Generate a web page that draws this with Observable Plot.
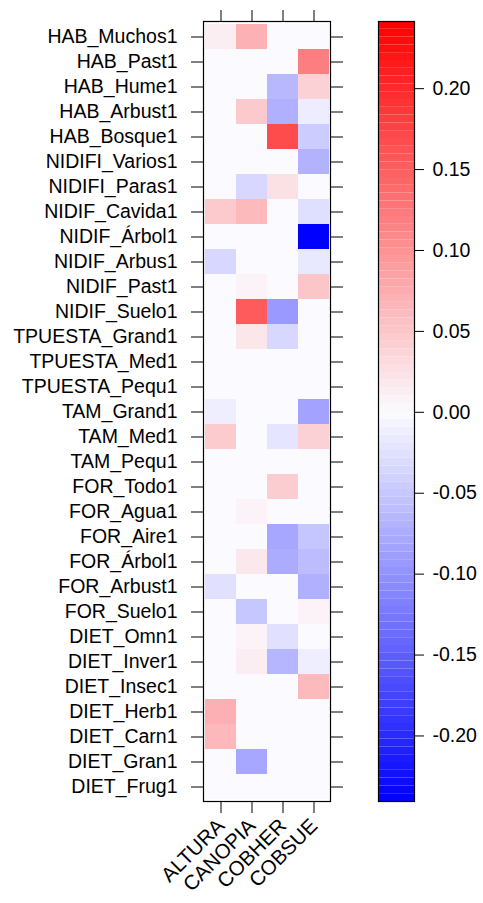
<!DOCTYPE html>
<html><head><meta charset="utf-8">
<script src="https://cdn.jsdelivr.net/npm/d3@7"></script>
<script src="https://cdn.jsdelivr.net/npm/@observablehq/plot@0.6"></script>
<style>
html,body{margin:0;padding:0;background:#fff;}
#chart{position:relative;width:483px;height:903px;}
#chart svg{position:absolute;left:0;top:0;}
</style></head><body><div id="chart"></div>
<script>
const variables = ["HAB_Muchos1","HAB_Past1","HAB_Hume1","HAB_Arbust1","HAB_Bosque1","NIDIFI_Varios1","NIDIFI_Paras1","NIDIF_Cavida1","NIDIF_Árbol1","NIDIF_Arbus1","NIDIF_Past1","NIDIF_Suelo1","TPUESTA_Grand1","TPUESTA_Med1","TPUESTA_Pequ1","TAM_Grand1","TAM_Med1","TAM_Pequ1","FOR_Todo1","FOR_Agua1","FOR_Aire1","FOR_Árbol1","FOR_Arbust1","FOR_Suelo1","DIET_Omn1","DIET_Inver1","DIET_Insec1","DIET_Herb1","DIET_Carn1","DIET_Gran1","DIET_Frug1"];
const predictors = ["ALTURA","CANOPIA","COBHER","COBSUE"];
const altura  = [0.012,0,0,0,0,0,0,0.048,0,-0.034,0,0,0,0,0,-0.012,0.046,0,0,0,0,0,-0.025,0,0,0,0,0.072,0.064,0,0];
const canopia = [0.07,0,0,0.047,0,0,-0.034,0.062,0,0,0.008,0.153,0.02,0,0,0,0,0,0,0.008,0,0.018,0,-0.05,0.008,0.012,0,0,0,-0.08,0];
const cobher  = [0,0,-0.064,-0.072,0.168,0,0.025,0,0,0,0,-0.094,-0.034,0,0,0,-0.021,0,0.044,0,-0.08,-0.076,0,0,-0.025,-0.066,0,0,0,0,0];
const cobsue  = [0,0.12,0.04,-0.013,-0.045,-0.07,0,-0.027,-0.24,-0.018,0.052,0,0,0,0,-0.084,0.04,0,0,0,-0.052,-0.06,-0.072,0.008,0,-0.012,0.062,0,0,0,0];
const colorTicks = [-0.20,-0.15,-0.10,-0.05,0,0.05,0.10,0.15,0.20];
const keyRange = [-0.2405, 0.2415];

const series = [altura, canopia, cobher, cobsue];
const data = variables.flatMap((v, i) => predictors.map((p, j) => ({variable: v, predictor: p, value: series[j][i]})));
const colorOpts = {type: "linear", domain: [-0.24, 0, 0.24], range: ["#0000ff", "#fbfbff", "#ff0000"], clamp: true};
const font = {fontFamily: "'Liberation Sans', Arial, sans-serif", fontSize: "19.5px", background: "transparent", color: "#000", overflow: "visible"};

const heat = Plot.plot({
  width: 483, height: 903,
  marginLeft: 203, marginRight: 153, marginTop: 21, marginBottom: 102,
  style: font,
  x: {domain: predictors, padding: 0, label: null},
  y: {domain: variables, padding: 0, label: null},
  color: colorOpts,
  marks: [
    Plot.cell(data, {x: "predictor", y: "variable", fill: "value"}),
    Plot.frame({stroke: "#000", strokeWidth: 1.2}),
    Plot.axisX({anchor: "bottom", tickSize: 12, tickPadding: 9, tickRotate: -45, fontSize: 20.5, label: null}),
    Plot.axisX({anchor: "top", tickSize: 12, tickFormat: () => "", label: null}),
    Plot.axisY({anchor: "left", tickSize: 12, tickPadding: 14, label: null}),
    Plot.axisY({anchor: "right", tickSize: 12, tickFormat: () => "", label: null})
  ]
});

const nSteps = 100;
const stepW = (keyRange[1] - keyRange[0]) / nSteps;
const steps = d3.range(nSteps).map(i => ({lo: keyRange[0] + i * stepW, hi: keyRange[0] + (i + 1) * stepW, mid: keyRange[0] + (i + 0.5) * stepW}));

const key = Plot.plot({
  width: 483, height: 903,
  marginLeft: 378, marginRight: 69, marginTop: 21, marginBottom: 102,
  style: font,
  y: {domain: keyRange, label: null},
  color: colorOpts,
  marks: [
    Plot.rect(steps, {y1: "lo", y2: "hi", fill: "mid"}),
    Plot.frame({stroke: "#000", strokeWidth: 1.2}),
    Plot.axisY({anchor: "right", ticks: colorTicks, tickSize: 9, tickPadding: 9, tickFormat: d => d.toFixed(2), label: null})
  ]
});

const root = document.getElementById("chart");
root.appendChild(heat);
root.appendChild(key);
</script>
</body></html>
